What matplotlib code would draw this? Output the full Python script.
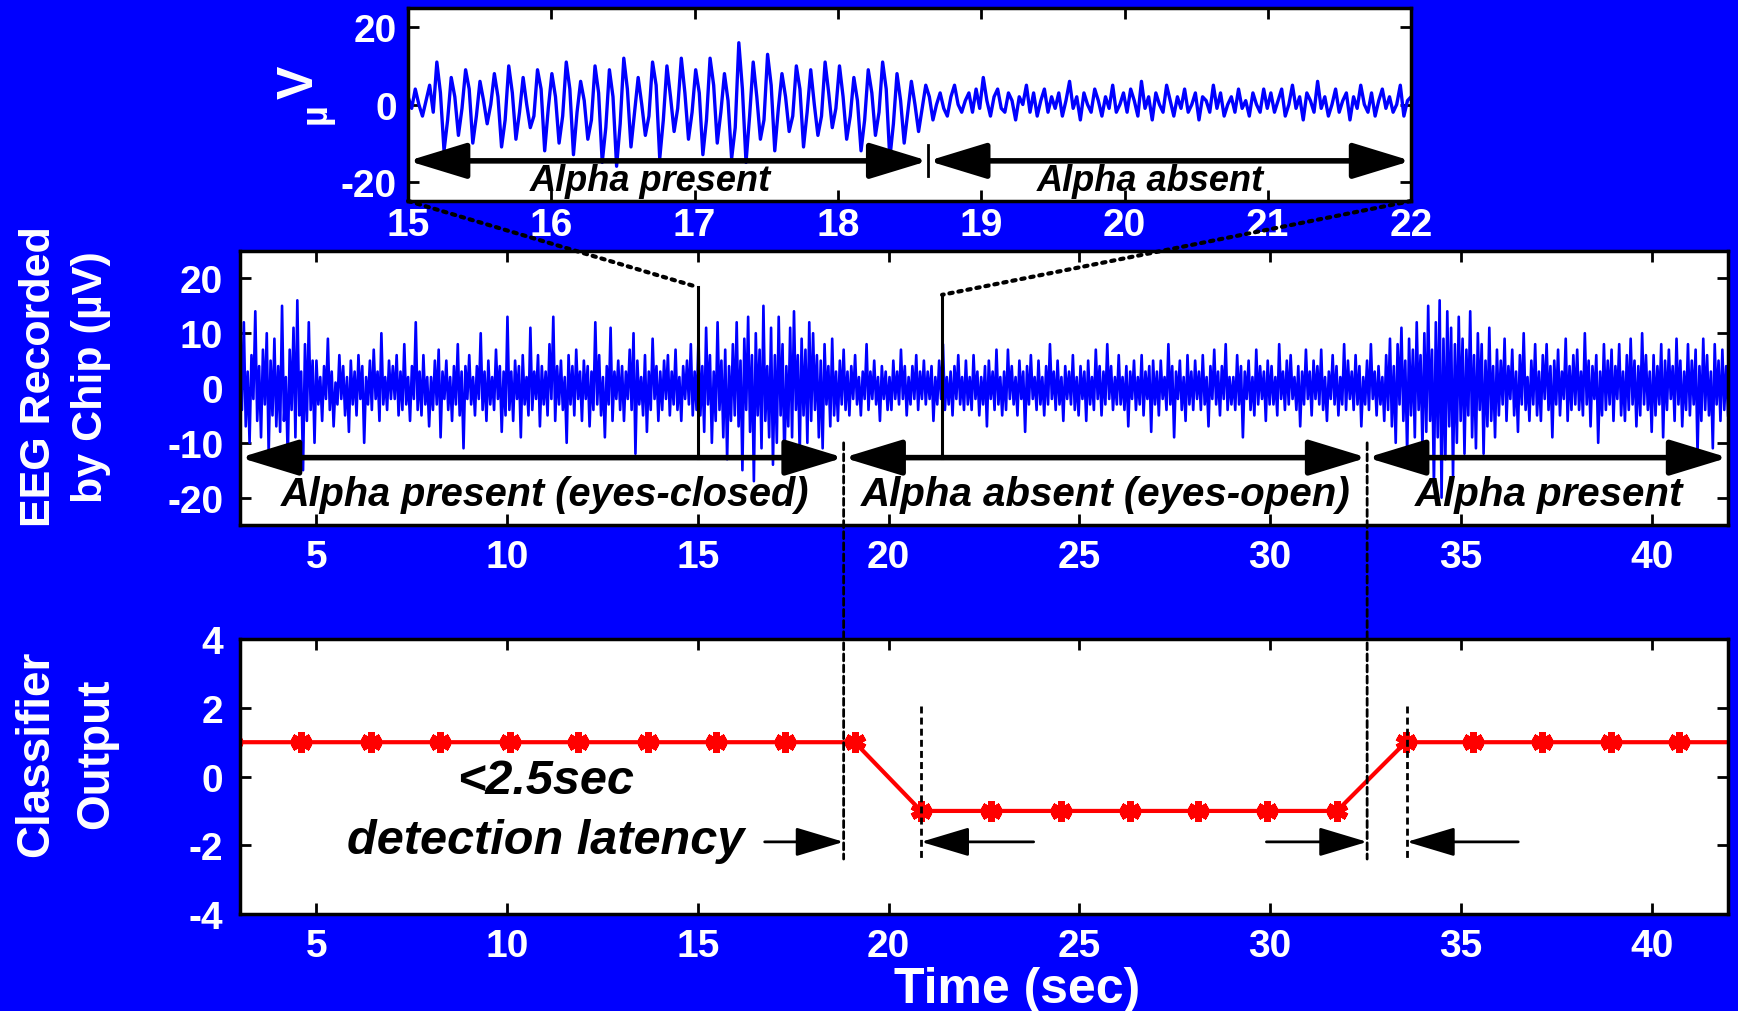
import numpy as np
import matplotlib
matplotlib.use("Agg")
from matplotlib import pyplot as plt
from matplotlib.patches import ConnectionPatch

plt.rcParams['font.family'] = ['Liberation Sans', 'DejaVu Sans']
plt.rcParams['font.weight'] = 'bold'
plt.rcParams['axes.unicode_minus'] = False

BLUE = '#0000FF'

# EEG recorded by chip, 3..42 sec, 20 samples per second (one row per second)
eeg_main = [
    8, -4, 12, -7, 3, -10, 6, -2, 14, -6, 4, -9, 7, -3, 10, -12, 5, -5, 9, -7,
    4, -8, 15, -6, 2, -13, 7, -4, 11, -9, 16, -5, 3, -15, 8, -6, 12, -4, 5, -10,
    5, -3, 2, -6, 4, -2, 9, -4, 3, -7, 1, -3, 6, -2, 4, -5, 2, -8, 5, -3,
    3, -5, 6, -2, 4, -10, 2, -3, 5, -4, 7, -2, 3, -6, 10, -3, 2, -4, 5, -2,
    4, -2, 6, -5, 3, -4, 8, -3, 2, -6, 4, -2, 12, -4, 3, -5, 6, -3, 2, -7,
    2, -4, 5, -3, 7, -9, 3, -2, 5, -4, 2, -6, 4, -3, 8, -5, 3, -11, 4, -2,
    6, -3, 2, -5, 4, -2, 10, -4, 3, -6, 5, -3, 2, -4, 7, -2, 4, -8, 3, -5,
    13, -4, 3, -6, 5, -2, 4, -9, 6, -3, 2, -5, 11, -4, 3, -2, 6, -7, 4, -3,
    3, -5, 8, -2, 13, -6, 4, -3, 5, -4, 2, -10, 6, -3, 4, -5, 7, -2, 3, -6,
    5, -2, 4, -7, 3, -4, 12, -3, 6, -5, 2, -9, 4, -3, 11, -6, 3, -2, 5, -4,
    4, -6, 3, -2, 7, -4, 10, -12, 5, -3, 2, -5, 6, -8, 3, -4, 9, -2, 4, -6,
    3, -4, 5, -2, 6, -5, 3, -3, 7, -4, 2, -6, 4, -2, 5, -3, 8, -5, 3, -4,
    9, -5, 4, -8, 11, -3, 6, -10, 3, -6, 12, -4, 5, -9, 7, -13, 4, -6, 8, -5,
    12, -7, 5, -15, 9, -4, 13, -8, 6, -17, 10, -5, 7, -11, 15, -6, 4, -9, 11, -14,
    6, -10, 13, -5, 8, -14, 4, -7, 11, -9, 14, -4, 6, -12, 9, -5, 7, -10, 12, -6,
    10, -4, 6, -9, 5, -11, 8, -3, 4, -7, 9, -5, 3, -6, 5, -3, 7, -4, 3, -5,
    4, -2, 6, -3, 2, -5, 3, -2, 8, -4, 3, -2, 5, -3, 2, -6, 4, -2, 3, -4,
    2, -4, 5, -2, 3, -3, 7, -2, 4, -5, 2, -3, 4, -2, 6, -4, 3, -2, 5, -3,
    3, -2, 4, -6, 2, -3, 5, -2, 8, -4, 2, -3, 3, -5, 4, -2, 6, -3, 2, -4,
    5, -3, 2, -4, 6, -2, 3, -5, 2, -3, 4, -7, 5, -2, 3, -4, 7, -3, 2, -5,
    3, -4, 7, -2, 4, -3, 2, -5, 5, -2, 3, -8, 4, -3, 6, -2, 2, -4, 5, -3,
    2, -5, 4, -3, 8, -2, 3, -4, 5, -3, 2, -6, 4, -2, 3, -3, 6, -4, 2, -5,
    4, -2, 3, -6, 5, -3, 2, -4, 7, -2, 4, -5, 3, -3, 8, -2, 4, -4, 2, -3,
    6, -3, 2, -4, 4, -7, 3, -2, 5, -4, 2, -3, 6, -5, 3, -2, 4, -8, 5, -3,
    3, -5, 5, -2, 2, -4, 8, -3, 4, -9, 3, -2, 5, -4, 2, -6, 6, -3, 3, -4,
    5, -2, 3, -4, 6, -3, 2, -7, 4, -2, 7, -3, 3, -5, 4, -2, 8, -4, 2, -3,
    2, -4, 6, -3, 4, -9, 3, -2, 5, -4, 2, -5, 7, -3, 4, -2, 3, -6, 5, -3,
    4, -3, 2, -5, 8, -2, 3, -4, 5, -3, 6, -2, 2, -4, 4, -7, 3, -3, 7, -2,
    3, -5, 5, -2, 4, -3, 7, -4, 2, -6, 3, -2, 6, -3, 4, -5, 2, -3, 8, -4,
    5, -2, 3, -4, 6, -3, 4, -7, 2, -3, 5, -4, 8, -2, 3, -5, 4, -3, 2, -6,
    6, -4, 9, -7, 4, -10, 8, -3, 11, -6, 5, -12, 9, -5, 7, -9, 12, -4, 6, -11,
    10, -8, 15, -6, 7, -18, 12, -9, 16, -20, 9, -13, 14, -7, 11, -16, 8, -10, 13, -6,
    9, -12, 7, -5, 14, -9, 6, -11, 10, -4, 8, -12, 5, -7, 11, -6, 4, -9, 7, -5,
    5, -3, 9, -6, 4, -2, 7, -5, 3, -8, 6, -3, 10, -4, 2, -6, 5, -3, 8, -5,
    3, -6, 6, -2, 8, -4, 4, -9, 5, -3, 7, -5, 3, -2, 9, -6, 4, -4, 6, -3,
    7, -4, 3, -5, 10, -3, 5, -7, 4, -2, 6, -10, 3, -5, 8, -4, 5, -3, 7, -6,
    4, -2, 8, -5, 3, -6, 6, -4, 9, -3, 5, -7, 4, -5, 10, -3, 6, -4, 3, -8,
    6, -5, 4, -3, 8, -9, 5, -4, 7, -2, 4, -6, 9, -3, 5, -7, 3, -4, 8, -5,
    5, -3, 7, -12, 4, -6, 9, -4, 6, -5, 3, -11, 8, -3, 5, -6, 7, -4, 4, -5,
]
main_t0, main_t1 = 3.0, 42.0

# zoomed segment 15..22 sec, 40 samples per second
eeg_zoom = [
    2, -1, 4, 0, -3, 1, 5, -2, 11, 3, -12, -4, 7, 2, -8, -1, 9, 4, -10, -3,
    6, 1, -5, 0, 8, 2, -11, -4, 10, 3, -9, -2, 7, 0, -6, -3, 9, 4, -12, -1,
    8, 2, -10, -3, 11, 4, -13, -2, 6, 1, -9, -4, 10, 3, -15, -6, 9, 2, -16, -5,
    12, 4, -11, -2, 7, 0, -8, -3, 11, 5, -14, -4, 10, 2, -7, -1, 12, 3, -9, -2,
    9, 3, -13, -4, 12, 5, -10, -2, 8, 1, -14, -6, 16, 4, -15, -3, 11, 2, -9, -4,
    13, 5, -12, -1, 8, 2, -7, -3, 10, 4, -11, -2, 9, 0, -8, -3, 11, 3, -6, -1,
    10, 2, -9, -3, 7, 1, -12, -4, 9, 3, -8, -2, 11, 4, -14, -5, 8, 1, -10, -2,
    6, 0, -7, -1, 5, 2, -4, 0, 3, -1, -3, 2, 5, 0, -2, 1, 3, -2, 4, -1,
    7, 1, -3, 2, 4, -1, -2, 3, 1, -4, 2, 0, 5, -2, 3, -3, 1, 4, -2, 2,
    -1, 3, -3, 1, 6, -1, 2, -4, 3, 0, -2, 4, 1, -3, 2, -1, 5, -2, 0, 3,
    -2, 4, 1, -3, 6, -1, 2, -4, 3, 0, -2, 5, 1, -3, 2, -1, 4, -2, 0, 3,
    -4, 2, 1, -2, 5, -1, 3, -3, 0, 2, -2, 4, -1, 1, -3, 3, 0, -2, 4, -1,
    3, -2, 1, 4, -3, 0, 5, -1, 2, -4, 3, 1, -2, 6, -1, 2, -3, 0, 4, -2,
    1, 3, -4, 2, -1, 5, 0, -2, 3, -3, 1, 4, -1, 2, -2, 0, 5, -3, 1, 2,
]
zoom_t0, zoom_t1 = 15.0, 22.0

# classifier output points
clf_t = [2.79, 4.61, 6.44, 8.24, 10.07, 11.87, 13.68, 15.48, 17.28, 19.11,
         20.85, 22.68, 24.51, 26.32, 28.12, 29.92, 31.75,
         33.55, 35.32, 37.12, 38.92, 40.72, 42.52]
clf_y = [1, 1, 1, 1, 1, 1, 1, 1, 1, 1,
         -1, -1, -1, -1, -1, -1, -1,
         1, 1, 1, 1, 1, 1]

# event times
t_close_open = 18.82
t_open_close = 32.54
t_det_open = 20.85
t_det_close = 33.58
t_zoom_sep = 18.63
t_zoom_right = 21.4

xticks = [5, 10, 15, 20, 25, 30, 35, 40]
main_yticks = [-20, -10, 0, 10, 20]
clf_yticks = [-4, -2, 0, 2, 4]
zoom_xticks = [15, 16, 17, 18, 19, 20, 21, 22]
zoom_yticks = [-20, 0, 20]

fig = plt.figure(figsize=(17.38, 10.12), dpi=100, facecolor=BLUE)
ax_in = fig.add_axes([0.2348, 0.8004, 0.5771, 0.1907])
ax_mid = fig.add_axes([0.1381, 0.4802, 0.8562, 0.2708])
ax_clf = fig.add_axes([0.1381, 0.0958, 0.8562, 0.2717])


def style(ax, pad_x, pad_y):
    for s in ax.spines.values():
        s.set_linewidth(2.5)
        s.set_color('black')
    ax.tick_params(direction='in', top=True, right=True, length=8, width=2,
                   color='black', labelcolor='white', labelsize=28)
    ax.tick_params(axis='x', pad=pad_x)
    ax.tick_params(axis='y', pad=pad_y)


def arrow(ax, x0, x1, y, style_str, lw, ms):
    ax.annotate('', xy=(x1, y), xytext=(x0, y),
                arrowprops=dict(arrowstyle=style_str, color='black', lw=lw,
                                mutation_scale=ms, shrinkA=0, shrinkB=0),
                annotation_clip=False)


big = '<|-|>,head_length=1.8,head_width=0.55'

# inset
t = np.linspace(zoom_t0, zoom_t1, len(eeg_zoom))
ax_in.plot(t, eeg_zoom, color=BLUE, lw=2.4)
ax_in.set_xlim(15, 22)
ax_in.set_ylim(-25, 25)
ax_in.set_xticks(zoom_xticks)
ax_in.set_yticks(zoom_yticks)
style(ax_in, 4, 8)
arrow(ax_in, 15, t_zoom_sep, -14.6, big, 4, 20)
arrow(ax_in, t_zoom_sep, 22, -14.6, big, 4, 20)
ax_in.plot([t_zoom_sep, t_zoom_sep], [-10.5, -18.5], color='black', lw=2)
ax_in.text(16.69, -19.8, 'Alpha present', style='italic', size=26, ha='center', va='center')
ax_in.text(20.18, -19.8, 'Alpha absent', style='italic', size=26, ha='center', va='center')
fig.text(300 / 1738, 1 - 82 / 1012, 'V', rotation=90, color='white', size=36,
         ha='center', va='center')
fig.text(316 / 1738, 1 - 114 / 1012, 'µ', rotation=90, color='white', size=26,
         ha='center', va='center')

# recorded EEG
t = np.linspace(main_t0, main_t1, len(eeg_main))
ax_mid.plot(t, eeg_main, color=BLUE, lw=1.9)
ax_mid.set_xlim(3, 42)
ax_mid.set_ylim(-25, 25)
ax_mid.set_xticks(xticks)
ax_mid.set_yticks(main_yticks)
style(ax_mid, 10, 12)
arrow(ax_mid, 3, t_close_open, -12.7, big, 4, 20)
arrow(ax_mid, t_close_open, t_open_close, -12.7, big, 4, 20)
arrow(ax_mid, t_open_close, 42, -12.7, big, 4, 20)
ax_mid.plot([15, 15], [18.4, -12.7], color='black', lw=2.2)
ax_mid.plot([t_zoom_right, t_zoom_right], [17.0, -12.7], color='black', lw=2.2)
ax_mid.text(11.0, -19.3, 'Alpha present (eyes-closed)', style='italic', size=28.5,
            ha='center', va='center')
ax_mid.text(25.7, -19.3, 'Alpha absent (eyes-open)', style='italic', size=29,
            ha='center', va='center')
ax_mid.text(37.3, -19.3, 'Alpha present', style='italic', size=29,
            ha='center', va='center')

# classifier
ax_clf.plot(clf_t, clf_y, color='red', lw=3, marker=(6, 2, 0), ms=15, mew=5)
ax_clf.set_xlim(3, 42)
ax_clf.set_ylim(-4, 4)
ax_clf.set_xticks(xticks)
ax_clf.set_yticks(clf_yticks)
style(ax_clf, 10, 12)
small_r = '-|>,head_length=1.5,head_width=0.45'
arrow(ax_clf, 16.75, t_close_open, -1.9, small_r, 2, 20)
arrow(ax_clf, 23.8, t_det_open, -1.9, small_r, 2, 20)
arrow(ax_clf, 29.9, t_open_close, -1.9, small_r, 2, 20)
arrow(ax_clf, 36.5, t_det_close, -1.9, small_r, 2, 20)
dash = (0, (2.5, 1.5))
for x in (t_det_open, t_det_close):
    ax_clf.plot([x, x], [2.05, -2.4], color='black', lw=2, linestyle=dash)
ax_clf.text(11.0, -0.1, '<2.5sec', style='italic', size=35, ha='center', va='center')
ax_clf.text(11.0, -1.85, 'detection latency', style='italic', size=35,
            ha='center', va='center')

# connectors between panels
for x in (t_close_open, t_open_close):
    con = ConnectionPatch(xyA=(x, -10.0), coordsA=ax_mid.transData,
                          xyB=(x, -2.4), coordsB=ax_clf.transData,
                          color='black', lw=2, linestyle=dash)
    fig.add_artist(con)
for xa, xb, yb in ((15, 15, 18.4), (22, t_zoom_right, 17.0)):
    con = ConnectionPatch(xyA=(xa, -25), coordsA=ax_in.transData,
                          xyB=(xb, yb), coordsB=ax_mid.transData,
                          color='black', lw=3, linestyle=(0, (0.8, 1.4)),
                          capstyle='round')
    fig.add_artist(con)

fig.text(65 / 1738, 1 - 377 / 1012, 'EEG Recorded\nby Chip (µV)', rotation=90,
         color='white', size=31, ha='center', va='center', linespacing=1.4)
fig.text(66 / 1738, 1 - 754 / 1012, 'Classifier\nOutput', rotation=90,
         color='white', size=33, ha='center', va='center', linespacing=1.45)
fig.text(1017 / 1738, 1 - 990 / 1012, 'Time (sec)', color='white', size=36,
         ha='center', va='center')

fig.savefig('out.png', dpi=100, facecolor=BLUE)
